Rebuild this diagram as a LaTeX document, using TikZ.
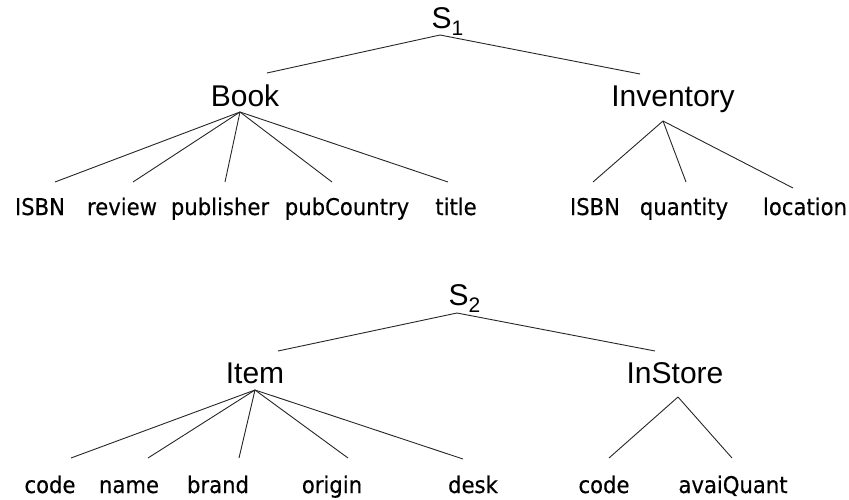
\documentclass[tikz,border=0pt]{standalone}
\usepackage{fontspec}
\setmainfont{Liberation Sans}
\newfontfamily\leaffont[FakeStretch=0.92,FakeBold=0.4]{DejaVu Sans}
\begin{document}
\begin{tikzpicture}[x=1pt,y=-1pt,
  inner sep=0pt, outer sep=0pt,
  root/.style={anchor=base west,font=\fontsize{30}{30}\selectfont},
  mid/.style={anchor=base,font=\fontsize{30}{30}\selectfont},
  leaf/.style={anchor=base,font=\leaffont\fontsize{23}{23}\selectfont},
  edge/.style={draw=black!85,line width=0.9pt}]
\useasboundingbox (0,0) rectangle (849,500);
\newcommand{\subx}[1]{\raisebox{-7pt}{\fontsize{21}{21}\selectfont #1}}
% ---------- S1 tree ----------
\node[root] (s1) at (431.5,29) {S\subx{1}};
\node[mid] (book) at (245,107) {Book};
\node[mid] (inv) at (673,107) {Inventory};
\node[leaf] (isbn) at (40,215) {ISBN};
\node[leaf] (review) at (122,215) {review};
\node[leaf] (publisher) at (220,215) {publisher};
\node[leaf] (pubcountry) at (347,215) {pubCountry};
\node[leaf] (title) at (456,215) {title};
\node[leaf] (isbnb) at (595,215) {ISBN};
\node[leaf] (quantity) at (684,215) {quantity};
\node[leaf] (location) at (805,215) {location};
\coordinate (s1v) at (440,35);
\coordinate (s1l) at (267,73);
\coordinate (s1r) at (640,74);
\coordinate (bookv) at (240,112);
\coordinate (e-isbn) at (55,182);
\coordinate (e-review) at (133,182);
\coordinate (e-publisher) at (225,182);
\coordinate (e-pubcountry) at (332,182);
\coordinate (e-title) at (448,182);
\coordinate (invv) at (663,121);
\coordinate (e-isbnb) at (593,182);
\coordinate (e-quantity) at (686,182);
\coordinate (e-location) at (793,188);
\draw[edge] (s1l) -- (s1v) -- (s1r);
\foreach \t in {isbn,review,publisher,pubcountry,title}
  \draw[edge] (bookv) -- (e-\t);
\foreach \t in {isbnb,quantity,location}
  \draw[edge] (invv) -- (e-\t);
% ---------- S2 tree ----------
\node[root] (s2) at (448.5,305) {S\subx{2}};
\node[mid] (item) at (255,383) {Item};
\node[mid] (instore) at (675,383) {InStore};
\node[leaf] (code) at (50,493) {code};
\node[leaf] (name) at (129,493) {name};
\node[leaf] (brand) at (218,493) {brand};
\node[leaf] (origin) at (332,493) {origin};
\node[leaf] (desk) at (473,493) {desk};
\node[leaf] (codeb) at (604,493) {code};
\node[leaf] (avai) at (733,493) {avaiQuant};
\coordinate (s2v) at (457,313);
\coordinate (s2l) at (278,351);
\coordinate (s2r) at (655,351);
\coordinate (itemv) at (255,390);
\coordinate (e-code) at (71,458);
\coordinate (e-name) at (148,458);
\coordinate (e-brand) at (239,458);
\coordinate (e-origin) at (348,458);
\coordinate (e-desk) at (463,459);
\coordinate (instv) at (678,397);
\coordinate (e-codeb) at (609,458);
\coordinate (e-avai) at (732,458);
\draw[edge] (s2l) -- (s2v) -- (s2r);
\foreach \t in {code,name,brand,origin,desk}
  \draw[edge] (itemv) -- (e-\t);
\foreach \t in {codeb,avai}
  \draw[edge] (instv) -- (e-\t);
\end{tikzpicture}
\end{document}
